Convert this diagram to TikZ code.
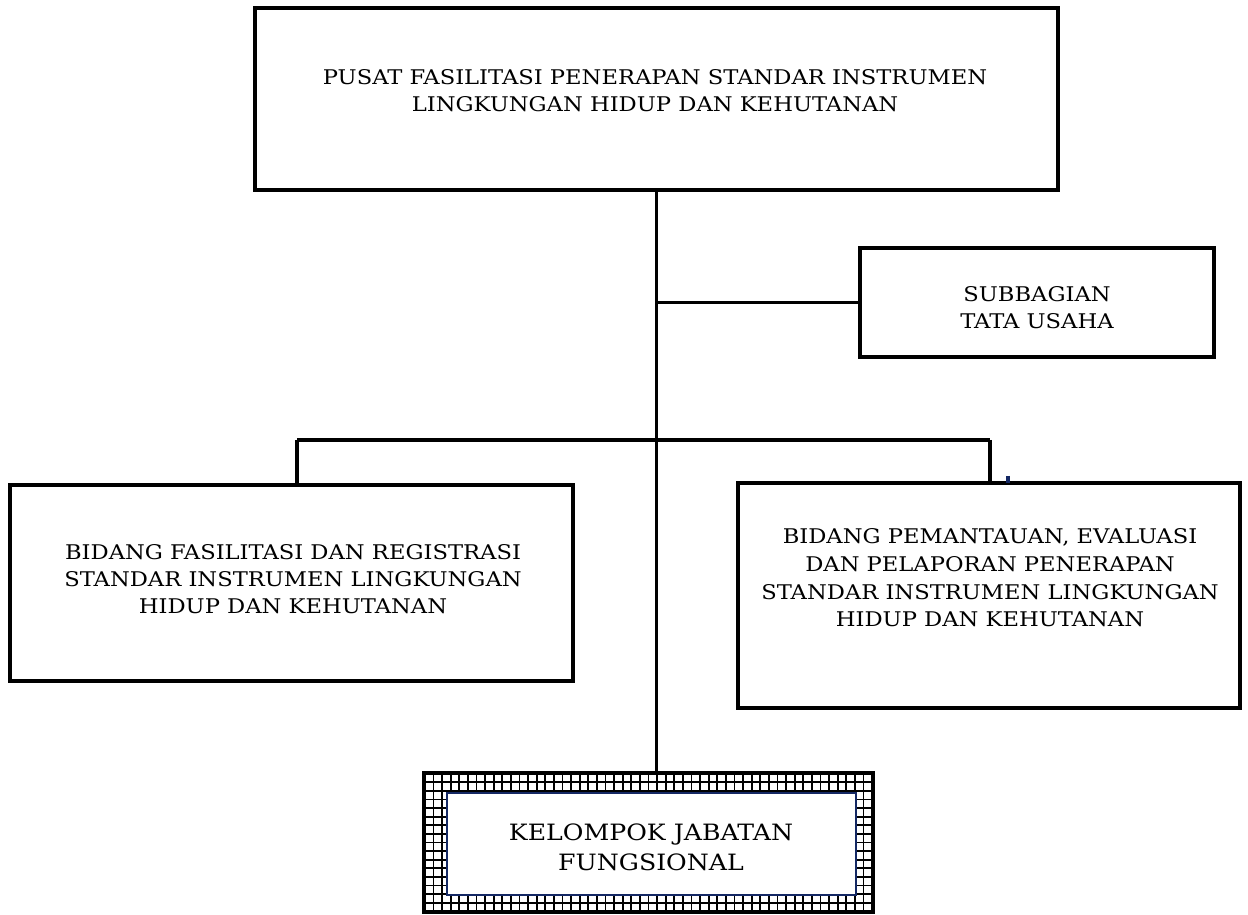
\documentclass[tikz,border=0pt]{standalone}
\usepackage{fontspec}
\setmainfont[FakeStretch=1.12]{DejaVu Serif}
\usepackage{xcolor}
\usetikzlibrary{positioning}

\definecolor{navy}{RGB}{20,40,100}

\begin{document}
\begin{tikzpicture}[x=0.02cm, y=-0.02cm,
  unit/.style={draw, line width=2.2pt, inner sep=0pt},
  txt/.style={align=center, inner sep=0pt, font=\fontsize{11.5}{15.4}\selectfont},
  link/.style={line width=2.2pt},
  gridbox/.style={draw, line width=2.2pt, inner sep=0pt,
                  path picture={\draw[line width=1pt, step=0.172cm]
                    (path picture bounding box.south west) grid
                    (path picture bounding box.north east);}},
]
\useasboundingbox (0,0) rectangle (1248,915);

% head of the unit
\node[unit, minimum width=16.06cm, minimum height=3.64cm] (pusat) at (656.5,99) {};
\node[txt] (pusatt) at (655,91)
  {PUSAT FASILITASI PENERAPAN STANDAR INSTRUMEN\\LINGKUNGAN HIDUP DAN KEHUTANAN};

% staff unit
\node[unit, minimum width=7.08cm, minimum height=2.18cm] (tu) at (1037,302.5) {};
\node[txt] (tut) at (1037,308) {SUBBAGIAN\\TATA USAHA};

% the two divisions
\node[unit, minimum width=11.26cm, minimum height=3.92cm] (bfr) at (291.5,583) {};
\node[txt] (bfrt) at (293,579)
  {BIDANG FASILITASI DAN REGISTRASI\\STANDAR INSTRUMEN LINGKUNGAN\\HIDUP DAN KEHUTANAN};
\node[unit, minimum width=10.04cm, minimum height=4.5cm] (bpe) at (989,595.5) {};
\node[txt, font=\fontsize{11.5}{15.8}\selectfont] (bpet) at (990,578)
  {BIDANG PEMANTAUAN, EVALUASI\\DAN PELAPORAN PENERAPAN\\STANDAR INSTRUMEN LINGKUNGAN\\HIDUP DAN KEHUTANAN};

% functional group
\node[gridbox, minimum width=8.98cm, minimum height=2.78cm] (kjfout) at (648.5,842.5) {};
\node[unit, draw=navy, line width=1.6pt, fill=white, minimum width=8.18cm,
      minimum height=2.04cm] (kjf) at (651.5,844) {};
\node[txt, font=\fontsize{12.8}{17}\selectfont] (kjft) at (651,847)
  {KELOMPOK JABATAN\\FUNGSIONAL};

% connectors
\coordinate (barl) at (297,440);
\coordinate (barr) at (990,440);
\draw[link] (pusat.south) -- (pusat.south |- kjfout.north);
\draw[link] (pusat.south |- tu.west) -- (tu.west);
\draw[link] (barl) -- (barr);
\draw[link] (barl) -- (barl |- bfr.north);
\draw[link] (barr) -- (barr |- bpe.north);
\draw[navy, line width=2pt] (1008,476) -- (1008,483);
\end{tikzpicture}
\end{document}
